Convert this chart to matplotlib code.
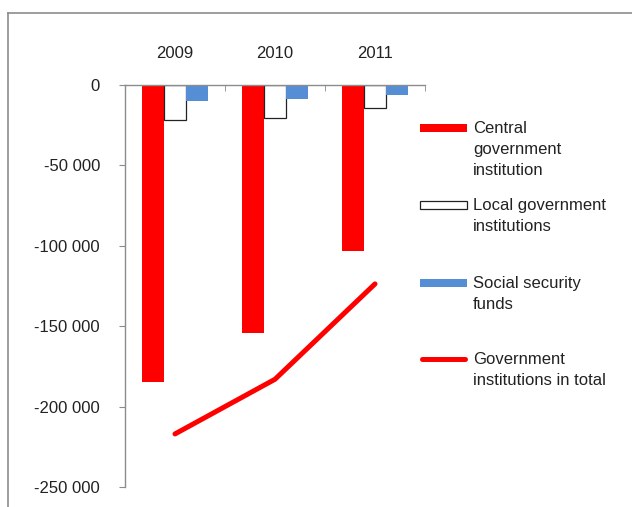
import matplotlib
matplotlib.use("Agg")
import matplotlib.pyplot as plt
from matplotlib.patches import Rectangle
from matplotlib.lines import Line2D
from matplotlib.ticker import FixedLocator, FuncFormatter

plt.rcParams['font.family'] = ['Liberation Sans', 'DejaVu Sans']

years = ["2009", "2010", "2011"]
central = [-185000, -154000, -103000]
local = [-22000, -20500, -14500]
social = [-10000, -8700, -6200]
total = [-217000, -183000, -123700]
series_labels = ["Central\ngovernment\ninstitution",
                 "Local government\ninstitutions",
                 "Social security\nfunds",
                 "Government\ninstitutions in total"]

W, H = 632, 507
fig = plt.figure(figsize=(W / 100, H / 100), dpi=100)

def fx(px):
    return px / W

def fy(py):
    return 1 - py / H

ax = fig.add_axes([fx(125), fy(487), fx(425) - fx(125), fy(85) - fy(487)])

x = [1, 2, 3]
bw = 0.22
red = "#FF0000"
blue = "#558ED5"
ax.bar([i - bw for i in x], central, width=bw, color=red, zorder=2)
ax.bar(x, local, width=bw, color="white", edgecolor="#222222", linewidth=0.9, zorder=2)
ax.bar([i + bw for i in x], social, width=bw, color=blue, zorder=2)
ax.plot(x, total, color=red, linewidth=3.6, solid_capstyle='round', zorder=3)

ax.set_xlim(0.5, 3.5)
ax.set_ylim(-250000, 0)

gray = "#8C8C8C"
for s in ["right", "bottom"]:
    ax.spines[s].set_visible(False)
for s in ["left", "top"]:
    ax.spines[s].set_color(gray)
    ax.spines[s].set_linewidth(1.0)

ax.yaxis.set_major_locator(FixedLocator([0, -50000, -100000, -150000, -200000, -250000]))
ax.yaxis.set_major_formatter(FuncFormatter(lambda v, p: "{:,}".format(int(v)).replace(",", " ")))
ax.tick_params(axis='y', direction='out', length=4, color=gray, pad=14, labelsize=12, labelcolor="#222222")

ax.xaxis.tick_top()
ax.set_xticks(x)
ax.set_xticklabels(years)
ax.set_xticks([0.5, 1.5, 2.5, 3.5], minor=True)
ax.tick_params(axis='x', which='major', length=0, pad=17, labelsize=12, labelcolor="#222222")
ax.tick_params(axis='x', which='minor', direction='in', length=4, color=gray)

# outer frame (partial)
fig.add_artist(Line2D([fx(8), 1.0], [fy(13), fy(13)], transform=fig.transFigure, color=gray, lw=1.2))
fig.add_artist(Line2D([fx(8), fx(8)], [fy(13), 0.0], transform=fig.transFigure, color=gray, lw=1.2))

# legend (manual)
hx0, hx1 = 420, 467
tx = 473
hy = [128, 205, 283, 359]
hh = 8
handles_style = [
    dict(fc=red, ec="none", lw=0),
    dict(fc="white", ec="#222222", lw=0.9),
    dict(fc=blue, ec="none", lw=0),
]
for i in range(3):
    st = handles_style[i]
    fig.add_artist(Rectangle((fx(hx0), fy(hy[i] + hh / 2)), fx(hx1) - fx(hx0), fy(hy[i] - hh / 2) - fy(hy[i] + hh / 2),
                             transform=fig.transFigure, facecolor=st['fc'], edgecolor=st['ec'], linewidth=st['lw']))
fig.add_artist(Line2D([fx(hx0 + 2), fx(hx1 - 2)], [fy(hy[3]), fy(hy[3])], transform=fig.transFigure,
                      color=red, lw=3.6, solid_capstyle='round'))
for i, lab in enumerate(series_labels):
    fig.text(fx(tx), fy(hy[i] - 7), lab, ha='left', va='top', fontsize=12, color="#222222", linespacing=1.5)

fig.savefig("out.png", dpi=100)
